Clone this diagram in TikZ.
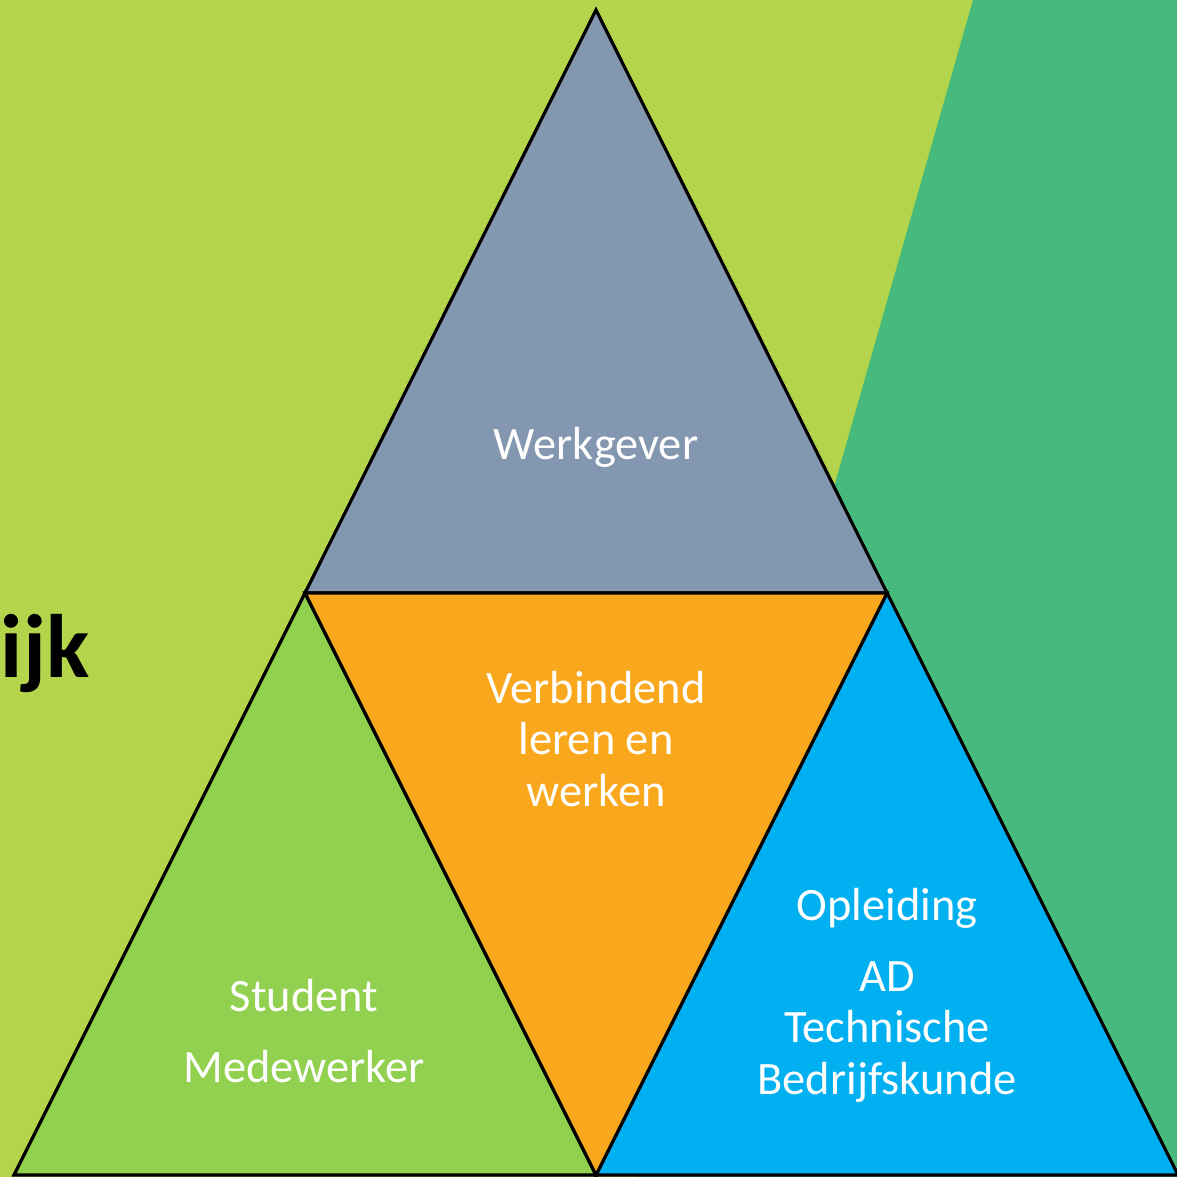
\documentclass[tikz,border=0pt]{standalone}
\usepackage{fontspec}
\setmainfont{Carlito}
\definecolor{lichtgroen}{HTML}{B3D44B}
\definecolor{donkergroen}{HTML}{46B97C}
\definecolor{grijsblauw}{HTML}{8497B0}
\definecolor{oranje}{HTML}{F9A81D}
\definecolor{groen}{HTML}{92D050}
\definecolor{blauw}{HTML}{00B0F0}
\tikzset{
  vlak/.style={draw=black, line width=0.9pt, line join=miter},
  tekst/.style={text=white, align=center, font=\fontsize{13.2}{14.65}\selectfont},
}
\begin{document}
\begin{tikzpicture}[x=0.01cm,y=-0.01cm]
  \useasboundingbox (0,0) rectangle (1177,1177);
  \fill[lichtgroen] (0,0) rectangle (1177,1177);
  \fill[donkergroen] (973,0) -- (1177,0) -- (1177,1177) -- (637,1177) -- cycle;

  \coordinate (top) at (596,10);
  \coordinate (links) at (14,1175);
  \coordinate (rechts) at (1178,1175);
  \coordinate (ml) at (305,593);
  \coordinate (mr) at (887,593);
  \coordinate (mo) at (596,1175);

  \filldraw[vlak, fill=grijsblauw] (top) -- (mr) -- (ml) -- cycle;
  \filldraw[vlak, fill=groen] (ml) -- (mo) -- (links) -- cycle;
  \filldraw[vlak, fill=blauw] (mr) -- (rechts) -- (mo) -- cycle;
  \filldraw[vlak, fill=oranje] (ml) -- (mr) -- (mo) -- cycle;

  \node[tekst] (werkgever) at (596,447) {Werkgever};
  \node[tekst] (leren) at (596,739) {Verbindend\\leren en\\werken};
  \node[tekst] (student) at (304,1031) {Student\\[5.5pt]Medewerker};
  \node[tekst] (opleiding) at (887,995) {Opleiding\\[5.5pt]AD\\Technische\\Bedrijfskunde};
  \node[anchor=base east, inner sep=0pt, font=\fontsize{25.6}{30}\selectfont\bfseries] (ijk) at (90,678) {ijk};
\end{tikzpicture}
\end{document}
